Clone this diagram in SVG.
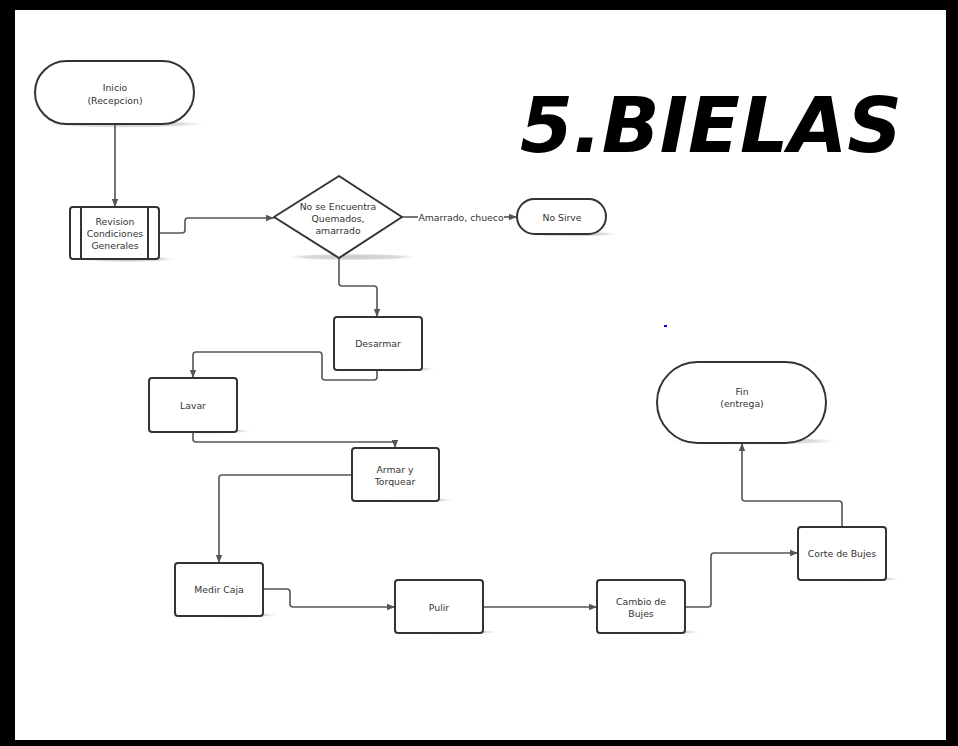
<svg xmlns="http://www.w3.org/2000/svg" width="958" height="746" viewBox="0 0 958 746">
<style>
.n{fill:#fff;stroke:#333;stroke-width:2}
.t{font-family:"DejaVu Sans",Verdana,sans-serif;font-size:9.3px;fill:#333;text-anchor:middle}
.c{fill:none;stroke:#555;stroke-width:1.6}
.sh{fill:url(#sg)}
</style>
<defs>
<radialGradient id="sg"><stop offset="0" stop-color="#c8c8c8"/><stop offset="0.7" stop-color="#dcdcdc"/><stop offset="1" stop-color="#fff" stop-opacity="0"/></radialGradient>
<marker id="ar" markerUnits="userSpaceOnUse" markerWidth="9" markerHeight="8" refX="8" refY="4" orient="auto"><path d="M0,0.8 L8,4 L0,7.2 Z" fill="#555"/></marker>
</defs>
<rect x="0" y="0" width="958" height="746" fill="#000"/>
<rect x="15" y="10" width="931" height="730" fill="#fff"/>
<g id="shadows">
<ellipse class="sh" cx="125" cy="124" rx="84" ry="4"/>
<ellipse class="sh" cx="128" cy="259" rx="50" ry="3.5"/>
<ellipse class="sh" cx="352" cy="257" rx="70" ry="3.5"/>
<ellipse class="sh" cx="572" cy="234" rx="48" ry="3"/>
<ellipse class="sh" cx="392" cy="369" rx="48" ry="3"/>
<ellipse class="sh" cx="207" cy="431" rx="48" ry="3"/>
<ellipse class="sh" cx="409" cy="500" rx="48" ry="3"/>
<ellipse class="sh" cx="233" cy="615" rx="48" ry="3"/>
<ellipse class="sh" cx="453" cy="632" rx="48" ry="3"/>
<ellipse class="sh" cx="655" cy="632" rx="48" ry="3"/>
<ellipse class="sh" cx="856" cy="579" rx="48" ry="3"/>
<ellipse class="sh" cx="755" cy="441" rx="88" ry="4"/>
</g>
<g id="connectors">
<path class="c" d="M115 124 V207" marker-end="url(#ar)"/>
<path class="c" d="M159 233 H182 Q185 233 185 230 V221 Q185 218 188 218 H274" marker-end="url(#ar)"/>
<path class="c" d="M402 217 H418"/>
<path class="c" d="M504 217 H517" marker-end="url(#ar)"/>
<path class="c" d="M339 258 V283 Q339 286 342 286 H374 Q377 286 377 289 V317" marker-end="url(#ar)"/>
<path class="c" d="M377 370 V377 Q377 380 374 380 H325 Q322 380 322 377 V355 Q322 352 319 352 H196 Q193 352 193 355 V378" marker-end="url(#ar)"/>
<path class="c" d="M193 432 V439 Q193 442 196 442 H392 Q395 442 395 445 V448" marker-end="url(#ar)"/>
<path class="c" d="M352 475 H222 Q219 475 219 478 V563" marker-end="url(#ar)"/>
<path class="c" d="M263 589 H287 Q290 589 290 592 V604 Q290 607 293 607 H395" marker-end="url(#ar)"/>
<path class="c" d="M483 607 H597" marker-end="url(#ar)"/>
<path class="c" d="M685 607 H708 Q711 607 711 604 V556 Q711 553 714 553 H798" marker-end="url(#ar)"/>
<path class="c" d="M842 527 V504 Q842 501 839 501 H745 Q742 501 742 498 V443" marker-end="url(#ar)"/>
<text class="t" x="461" y="220.5">Amarrado, chueco</text>
</g>
<g id="inicio">
<rect class="n" x="35" y="61" width="159" height="63" rx="31.5"/>
<text class="t" x="115" y="90.5">Inicio</text>
<text class="t" x="115" y="103.5">(Recepcion)</text>
</g>
<g id="revision">
<rect class="n" x="70" y="207" width="89" height="52" rx="3"/>
<path d="M81 207 V259 M148 207 V259" stroke="#333" stroke-width="2"/>
<text class="t" x="115" y="224.5">Revision</text>
<text class="t" x="115" y="236.5">Condiciones</text>
<text class="t" x="115" y="248.5">Generales</text>
</g>
<g id="decision">
<path class="n" d="M339 176 L402 217 L339 258 L274 217 Z" stroke-linejoin="round"/>
<text class="t" x="338" y="209.5">No se Encuentra</text>
<text class="t" x="338" y="221.5">Quemados,</text>
<text class="t" x="338" y="233.5">amarrado</text>
</g>
<g id="nosirve">
<rect class="n" x="517" y="199" width="89" height="35" rx="17.5"/>
<text class="t" x="562" y="220.5">No Sirve</text>
</g>
<g id="desarmar">
<rect class="n" x="334" y="317" width="88" height="53" rx="3"/>
<text class="t" x="378" y="346.5">Desarmar</text>
</g>
<g id="lavar">
<rect class="n" x="149" y="378" width="88" height="54" rx="3"/>
<text class="t" x="193" y="408.5">Lavar</text>
</g>
<g id="armar">
<rect class="n" x="352" y="448" width="87" height="53" rx="3"/>
<text class="t" x="395" y="472.5">Armar y</text>
<text class="t" x="395" y="484.5">Torquear</text>
</g>
<g id="medir">
<rect class="n" x="175" y="563" width="88" height="53" rx="3"/>
<text class="t" x="219" y="592.5">Medir Caja</text>
</g>
<g id="pulir">
<rect class="n" x="395" y="580" width="88" height="53" rx="3"/>
<text class="t" x="439" y="610.5">Pulir</text>
</g>
<g id="cambio">
<rect class="n" x="597" y="580" width="88" height="53" rx="3"/>
<text class="t" x="641" y="604.5">Cambio de</text>
<text class="t" x="641" y="616.5">Bujes</text>
</g>
<g id="corte">
<rect class="n" x="798" y="527" width="88" height="53" rx="3"/>
<text class="t" x="842" y="556.5">Corte de Bujes</text>
</g>
<g id="fin">
<rect class="n" x="657" y="362" width="169" height="81" rx="40.5"/>
<text class="t" x="742" y="394.5">Fin</text>
<text class="t" x="742" y="406.5">(entrega)</text>
</g>
<rect x="664" y="325" width="3" height="2" fill="#00f"/>
<text x="520" y="152" font-family="'DejaVu Sans',Verdana,sans-serif" font-weight="bold" font-style="italic" font-size="77" fill="#000" textLength="382" lengthAdjust="spacingAndGlyphs">5.BIELAS</text>
</svg>
